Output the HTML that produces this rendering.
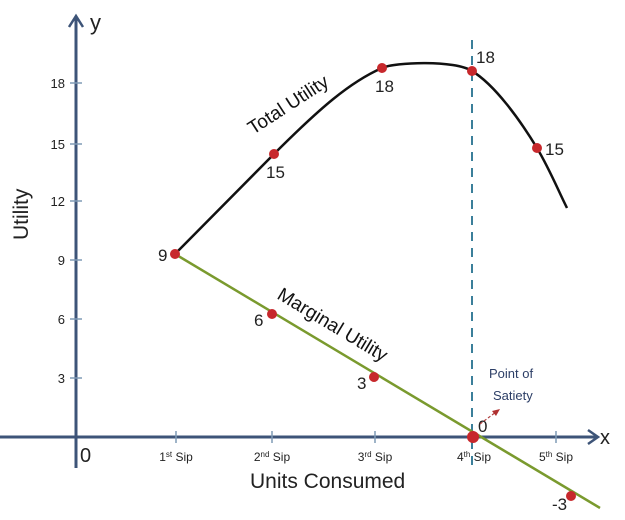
<!DOCTYPE html>
<html><head><style>html,body{margin:0;padding:0;background:#fff}svg{display:block}</style></head>
<body>
<svg width="625" height="520" viewBox="0 0 625 520" xmlns="http://www.w3.org/2000/svg" font-family="Liberation Sans, sans-serif">
<g stroke="#3d5478" stroke-width="3" fill="none">
<line x1="76" y1="18" x2="76" y2="468"/>
<polyline points="69,27 76,16 83,27" stroke-width="2.5"/>
<line x1="0" y1="437" x2="596" y2="437"/>
<polyline points="588,430 598,437 588,444" stroke-width="2.5"/>
</g>
<g stroke="#7f9ab5" stroke-width="1.5">
<line x1="70" y1="83" x2="82" y2="83"/><line x1="70" y1="144" x2="82" y2="144"/>
<line x1="70" y1="201" x2="82" y2="201"/><line x1="70" y1="260" x2="82" y2="260"/>
<line x1="70" y1="319" x2="82" y2="319"/><line x1="70" y1="378" x2="82" y2="378"/>
<line x1="176" y1="431" x2="176" y2="443"/><line x1="272" y1="431" x2="272" y2="443"/>
<line x1="375" y1="431" x2="375" y2="443"/><line x1="556" y1="431" x2="556" y2="443"/>
</g>
<g font-size="13" fill="#222" text-anchor="end">
<text x="65" y="88">18</text><text x="65" y="149">15</text><text x="65" y="206">12</text>
<text x="65" y="265">9</text><text x="65" y="324">6</text><text x="65" y="383">3</text>
</g>
<text x="90" y="30" font-size="22" fill="#222">y</text>
<text x="600" y="444" font-size="20" fill="#222">x</text>
<text x="80" y="462" font-size="20" fill="#222">0</text>
<text transform="translate(28,240) rotate(-90)" font-size="21" fill="#222">Utility</text>
<text x="250" y="488" font-size="21" fill="#222">Units Consumed</text>
<g font-size="12" fill="#222" text-anchor="middle">
<text x="176" y="461">1<tspan font-size="8" dy="-4">st</tspan><tspan dy="4"> Sip</tspan></text>
<text x="272" y="461">2<tspan font-size="8" dy="-4">nd</tspan><tspan dy="4"> Sip</tspan></text>
<text x="375" y="461">3<tspan font-size="8" dy="-4">rd</tspan><tspan dy="4"> Sip</tspan></text>
<text x="474" y="461">4<tspan font-size="8" dy="-4">th</tspan><tspan dy="4"> Sip</tspan></text>
<text x="556" y="461">5<tspan font-size="8" dy="-4">th</tspan><tspan dy="4"> Sip</tspan></text>
</g>
<line x1="472" y1="40" x2="472" y2="472" stroke="#3b7f9a" stroke-width="2" stroke-dasharray="9,7"/>
<path d="M175,254 L274,154 C320,108 350,82 382,68 C395,62 455,60 472,71 C495,85 520,120 537,148 C550,170 558,190 567,208" stroke="#111" stroke-width="2.5" fill="none"/>
<line x1="175" y1="254" x2="600" y2="508" stroke="#7a9a2e" stroke-width="2.5"/>
<g fill="#c7282c">
<circle cx="175" cy="254" r="5"/><circle cx="274" cy="154" r="5"/><circle cx="382" cy="68" r="5"/>
<circle cx="472" cy="71" r="5"/><circle cx="537" cy="148" r="5"/>
<circle cx="272" cy="314" r="5"/><circle cx="374" cy="377" r="5"/><circle cx="473" cy="437" r="6"/>
<circle cx="571" cy="496" r="5"/>
</g>
<g font-size="17" fill="#222">
<text x="158" y="261">9</text><text x="266" y="178">15</text><text x="375" y="92">18</text>
<text x="476" y="63">18</text><text x="545" y="155">15</text>
<text x="254" y="326">6</text><text x="357" y="389">3</text><text x="478" y="432">0</text>
<text x="552" y="510">-3</text>
</g>
<text transform="translate(253,135) rotate(-33)" font-size="19" fill="#111">Total Utility</text>
<text transform="translate(276,298) rotate(31)" font-size="19" fill="#111">Marginal Utility</text>
<text x="489" y="378" font-size="13" fill="#2c3e66">Point of</text>
<text x="493" y="400" font-size="13" fill="#2c3e66">Satiety</text>
<line x1="480" y1="424" x2="496" y2="412" stroke="#b04040" stroke-width="1.2" stroke-dasharray="3,2"/>
<polygon points="500,409 492,411 496,416" fill="#b03030"/>
</svg>
</body></html>
